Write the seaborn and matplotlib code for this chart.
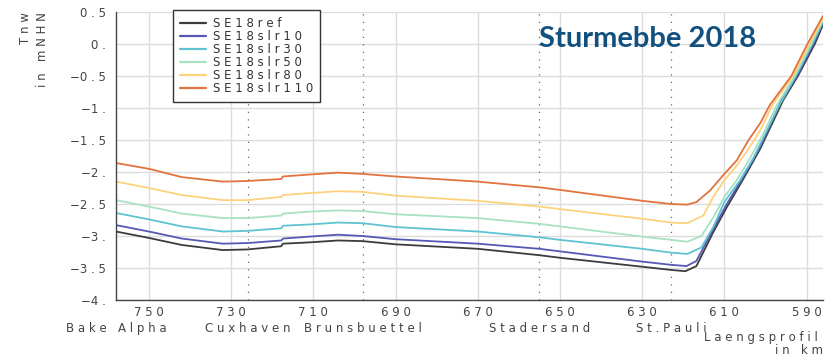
import numpy as np
import pandas as pd
import matplotlib
matplotlib.use("Agg")
import matplotlib.pyplot as plt
import seaborn as sns

# Abfluss-Laengsprofil Tnw, Sturmebbe 2018
runs = ["SE18ref", "SE18slr10", "SE18slr30", "SE18slr50", "SE18slr80", "SE18slr110"]
colors = ["#3c3c3c", "#5559b4", "#5ec3d0", "#a9e1c3", "#fdd27c", "#e2733e"]

# gemeinsamer flacher Teil (km)
km_flat = [758, 750, 742, 732, 726, 717.8, 717.4, 711, 704, 698, 690, 670, 655, 650, 630, 623]

ref_flat = [-2.93, -3.03, -3.14, -3.22, -3.21, -3.16, -3.12, -3.10, -3.07, -3.08, -3.13, -3.20, -3.30, -3.34, -3.48, -3.53]
slr10_flat = [-2.83, -2.93, -3.04, -3.12, -3.11, -3.07, -3.04, -3.01, -2.98, -3.00, -3.05, -3.12, -3.20, -3.24, -3.40, -3.45]
slr30_flat = [-2.64, -2.74, -2.85, -2.93, -2.92, -2.88, -2.84, -2.82, -2.79, -2.80, -2.86, -2.93, -3.02, -3.06, -3.20, -3.26]
slr50_flat = [-2.44, -2.54, -2.65, -2.72, -2.72, -2.68, -2.65, -2.62, -2.60, -2.61, -2.66, -2.72, -2.81, -2.85, -3.01, -3.06]
slr80_flat = [-2.15, -2.25, -2.36, -2.44, -2.44, -2.39, -2.36, -2.33, -2.30, -2.31, -2.37, -2.45, -2.54, -2.58, -2.73, -2.79]
slr110_flat = [-1.86, -1.95, -2.08, -2.15, -2.14, -2.11, -2.07, -2.04, -2.01, -2.03, -2.07, -2.15, -2.24, -2.28, -2.45, -2.50]

# Anstieg Richtung Hamburg
ref_rise_km = [619.5, 616.8, 612.7, 609.4, 605.4, 601.3, 595.7, 592.1, 588.0, 586.0]
ref_rise = [-3.55, -3.47, -2.94, -2.55, -2.11, -1.64, -0.88, -0.50, 0.00, 0.30]
slr10_rise_km = [619.2, 616.8, 612.7, 609.4, 605.4, 601.3, 596.1, 592.3, 588.3, 586.0]
slr10_rise = [-3.47, -3.39, -2.89, -2.50, -2.08, -1.61, -0.88, -0.50, 0.00, 0.33]
slr30_rise_km = [619.0, 615.6, 612.7, 610.0, 606.2, 603.0, 596.8, 592.6, 588.6, 586.0]
slr30_rise = [-3.28, -3.18, -2.86, -2.47, -2.13, -1.79, -0.98, -0.50, 0.00, 0.35]
slr50_rise_km = [619.0, 615.6, 612.7, 610.0, 607.0, 603.8, 600.5, 597.2, 592.9, 588.9, 586.0]
slr50_rise = [-3.09, -3.00, -2.71, -2.39, -2.13, -1.79, -1.40, -0.95, -0.50, 0.00, 0.38]
slr80_rise_km = [619.0, 615.1, 612.7, 610.0, 607.0, 603.8, 601.3, 598.1, 593.3, 589.3, 586.0]
slr80_rise = [-2.80, -2.68, -2.39, -2.13, -1.90, -1.61, -1.35, -0.93, -0.50, 0.00, 0.40]
slr110_rise_km = [619.0, 616.8, 613.5, 610.0, 607.0, 604.2, 601.3, 598.9, 593.7, 589.8, 586.0]
slr110_rise = [-2.51, -2.47, -2.29, -2.03, -1.82, -1.51, -1.24, -0.95, -0.50, 0.00, 0.44]

stations = ["Bake Alpha", "Cuxhaven", "Brunsbuettel", "Stadersand", "St.Pauli"]
station_km = [758, 726, 698, 655, 623]

x_ticks = [750, 730, 710, 690, 670, 650, 630, 610, 590]
y_ticks = [0.5, 0.0, -0.5, -1.0, -1.5, -2.0, -2.5, -3.0, -3.5, -4.0]
y_labels = ["0.5", "0.", "-0.5", "-1.", "-1.5", "-2.", "-2.5", "-3.", "-3.5", "-4."]

flats = [ref_flat, slr10_flat, slr30_flat, slr50_flat, slr80_flat, slr110_flat]
rises = [(ref_rise_km, ref_rise), (slr10_rise_km, slr10_rise), (slr30_rise_km, slr30_rise),
         (slr50_rise_km, slr50_rise), (slr80_rise_km, slr80_rise), (slr110_rise_km, slr110_rise)]

rows = []
for run, flat, (rkm, rval) in zip(runs, flats, rises):
    for k, v in zip(km_flat + rkm, flat + rval):
        rows.append({"km": k, "wl": v, "run": run})
df = pd.DataFrame(rows)


def spaced(s):
    # Plotter-Schrift mit Sperrung nachahmen
    s = s.replace("-", "\u2212")
    return " ".join(s).replace("\u2212 ", "\u2212")


sns.set_style("white")
plt.rcParams["font.family"] = ["DejaVu Sans"]

fig = plt.figure(figsize=(8.29, 3.58), dpi=100)
ax = fig.add_axes([116 / 829, 1 - 300 / 358, (823 - 116) / 829, (300 - 12) / 358])

sns.lineplot(data=df, x="km", y="wl", hue="run", hue_order=runs, palette=colors,
             estimator=None, sort=True, linewidth=1.3, ax=ax, legend=False)

ax.set_xlim(758, 586)
ax.set_ylim(-4, 0.5)

for k in station_km[1:]:
    ax.axvline(k, color="#666666", lw=0.9, ls=(0, (1, 5)), zorder=1)

ax.set_xticks(x_ticks)
ax.set_xticklabels([spaced(str(t)) for t in x_ticks])
ax.set_xticks(station_km[1:], minor=True)
ax.set_yticks(y_ticks)
ax.set_yticklabels([spaced(l) for l in y_labels])
ax.tick_params(axis="both", which="both", direction="inout", length=5, width=0.9,
               color="#444444", labelsize=8.5, labelcolor="#444444")
ax.tick_params(axis="x", pad=2)
ax.tick_params(axis="y", pad=5)

ax.grid(True, which="major", color="#dcdcdc", lw=1)
ax.set_axisbelow(True)
for side in ["top", "right"]:
    ax.spines[side].set_visible(False)
for side in ["left", "bottom"]:
    ax.spines[side].set_color("#444444")
    ax.spines[side].set_linewidth(1.0)
ax.set_xlabel("")
ax.set_ylabel("")

# Stationsnamen unter der Achse
trans = ax.get_xaxis_transform()
for name, k in zip(stations, station_km):
    ax.text(k, -0.1, spaced(name), transform=trans, ha="center", va="center",
            fontsize=8.5, color="#444444", clip_on=False)

fig.text(818 / 829, 1 - 338 / 358, spaced("Laengsprofil"), ha="right", va="center",
         fontsize=8.5, color="#444444")
fig.text(823 / 829, 1 - 351 / 358, spaced("in km"), ha="right", va="center",
         fontsize=8.5, color="#444444")
fig.text(26 / 829, 1 - 12 / 358, spaced("Tnw"), rotation=90, ha="center", va="top",
         fontsize=8.5, color="#444444")
fig.text(43 / 829, 1 - 12 / 358, spaced("in mNHN"), rotation=90, ha="center", va="top",
         fontsize=8.5, color="#444444")

# Legende
handles = [plt.Line2D([], [], color=c, lw=1.6) for c in colors]
leg = ax.legend(handles, [spaced(r) for r in runs], loc="upper left",
                bbox_to_anchor=((173 - 116) / (823 - 116), 1.006), fontsize=8.5,
                frameon=True, fancybox=False, framealpha=1, edgecolor="#333333",
                handlelength=2.2, handletextpad=0.6, labelspacing=0.0,
                borderpad=0.6, borderaxespad=0)
leg.get_frame().set_linewidth(1.0)
for t in leg.get_texts():
    t.set_color("#333333")

fig.text(539 / 829, 1 - 47 / 358, "Sturmebbe 2018", ha="left", va="baseline",
         fontsize=21, fontweight="bold", color="#11507f", family=["Lato", "DejaVu Sans"])

fig.savefig("out.png", dpi=100)
